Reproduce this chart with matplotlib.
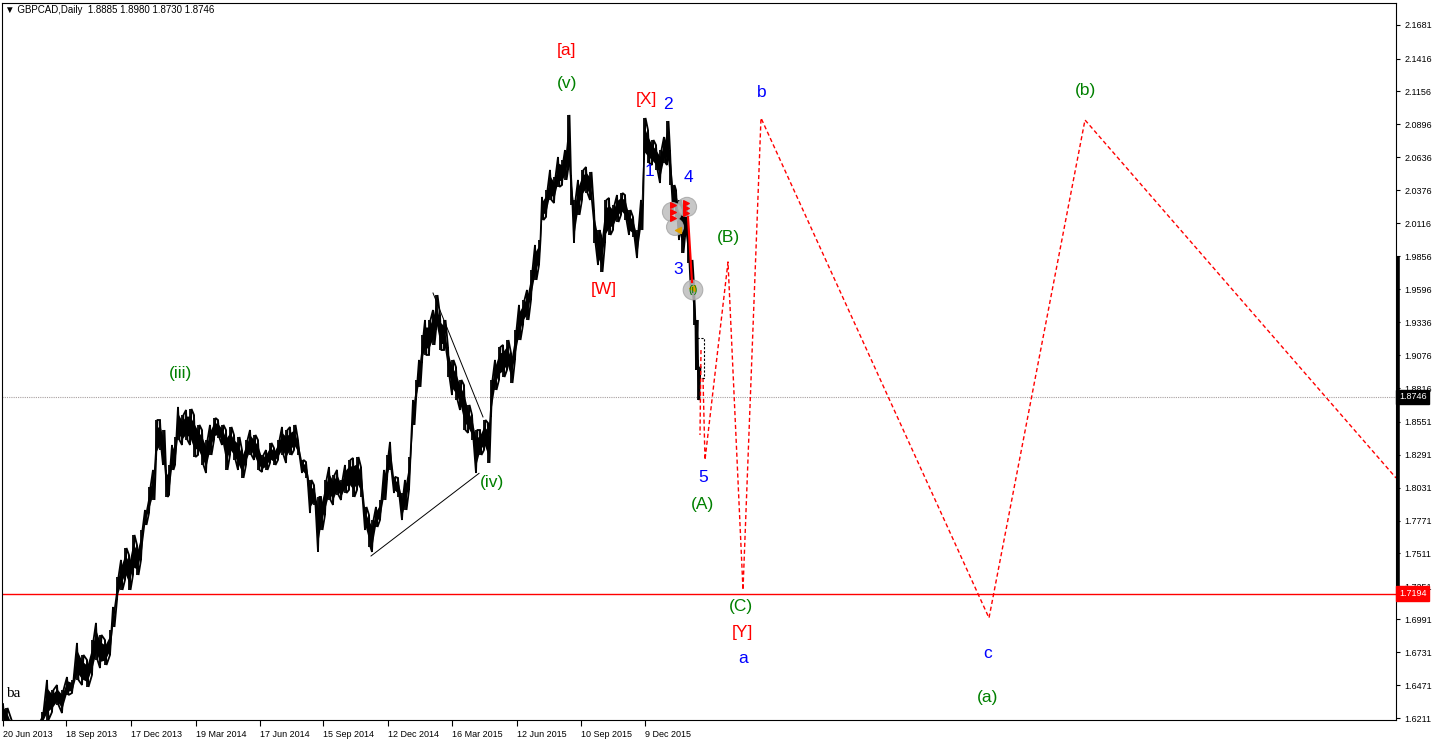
import matplotlib
matplotlib.use("Agg")
import matplotlib.pyplot as plt
import matplotlib.transforms as mtransforms

# ---------------- data ----------------
bar_x = [3, 6, 15, 25, 35, 42, 47, 52, 57, 62, 67, 72, 77, 82, 87, 92, 96, 100, 105, 110,
         113, 117, 121, 125, 129, 133, 137, 141, 145, 149, 153, 156, 160, 163, 166, 169, 172, 175, 178, 182,
         186, 190, 194, 198, 202, 206, 210, 214, 218, 222, 226, 230, 234, 238, 242, 246, 250, 254, 258, 262,
         266, 270, 274, 278, 282, 286, 290, 294, 298, 302, 306, 310, 314, 318, 321, 325, 329, 333, 337, 341,
         345, 349, 353, 357, 361, 365, 369, 372, 376, 380, 384, 387, 390, 394, 398, 402, 405, 409, 413, 416,
         419, 422, 425, 429, 433, 436, 440, 444, 448, 452, 456, 460, 464, 468, 472, 476, 480, 484, 488, 491,
         495, 499, 503, 507, 511, 515, 519, 523, 527, 531, 535, 539, 542, 546, 550, 554, 558, 562, 565, 568,
         571, 574, 578, 582, 586, 590, 594, 598, 601, 605, 609, 613, 617, 621, 625, 629, 633, 637, 641, 644,
         648, 652, 656, 660, 664, 667, 670, 673, 676, 679, 682, 685, 688, 691, 694, 696, 698, 699]
bar_high = [1.6323, 1.6292, 1.6118, 1.6079, 1.6158, 1.6260, 1.6513, 1.6434, 1.6473, 1.6434, 1.6536, 1.6513, 1.6805, 1.6710, 1.6671, 1.6828, 1.6963, 1.6868, 1.6828, 1.6907,
            1.7089, 1.7325, 1.7460, 1.7554, 1.7499, 1.7657, 1.7578, 1.7696, 1.7854, 1.8036, 1.8170, 1.8564, 1.8564, 1.8485, 1.8170, 1.8209, 1.8367, 1.8430, 1.8667, 1.8604,
            1.8643, 1.8651, 1.8604, 1.8525, 1.8485, 1.8406, 1.8525, 1.8580, 1.8564, 1.8525, 1.8485, 1.8509, 1.8446, 1.8430, 1.8327, 1.8406, 1.8485, 1.8446, 1.8406, 1.8288,
            1.8327, 1.8383, 1.8343, 1.8406, 1.8509, 1.8485, 1.8509, 1.8525, 1.8406, 1.8249, 1.8233, 1.8091, 1.8051, 1.7957, 1.7957, 1.8091, 1.8193, 1.8130, 1.8170, 1.8091,
            1.8209, 1.8249, 1.8264, 1.8272, 1.8193, 1.7878, 1.7815, 1.7775, 1.7878, 1.7933, 1.8170, 1.8288, 1.8391, 1.8114, 1.8107, 1.7988, 1.8091, 1.8272, 1.8722, 1.8880,
            1.9038, 1.9235, 1.9353, 1.9353, 1.9432, 1.9550, 1.9393, 1.9353, 1.9140, 1.9038, 1.8982, 1.8880, 1.8840, 1.8683, 1.8604, 1.8485, 1.8485, 1.8564, 1.8541, 1.8880,
            1.9038, 1.9140, 1.9156, 1.9195, 1.9093, 1.9274, 1.9472, 1.9511, 1.9590, 1.9748, 1.9945, 1.9984, 2.0324, 2.0379, 2.0537, 2.0481, 2.0639, 2.0616, 2.0694, 2.0971,
            2.0497, 2.0300, 2.0458, 2.0537, 2.0560, 2.0521, 2.0221, 2.0063, 2.0024, 2.0300, 2.0316, 2.0261, 2.0339, 2.0355, 2.0339, 2.0221, 2.0166, 2.0063, 2.0300, 2.0947,
            2.0852, 2.0773, 2.0734, 2.0694, 2.0797, 2.0923, 2.0694, 2.0418, 2.0379, 2.0300, 2.0261, 2.0276, 2.0103, 1.9827, 1.9629, 1.9353, 1.9038, 1.8980]
bar_low = [1.6197, 1.6181, 1.6000, 1.5960, 1.6039, 1.6158, 1.6197, 1.6260, 1.6316, 1.6252, 1.6394, 1.6410, 1.6513, 1.6473, 1.6458, 1.6552, 1.6671, 1.6607, 1.6631, 1.6710,
           1.6931, 1.7144, 1.7223, 1.7302, 1.7223, 1.7341, 1.7341, 1.7460, 1.7736, 1.7830, 1.7933, 1.8249, 1.8327, 1.8209, 1.7957, 1.7972, 1.8170, 1.8209, 1.8406, 1.8367,
           1.8406, 1.8367, 1.8272, 1.8288, 1.8209, 1.8146, 1.8288, 1.8406, 1.8422, 1.8367, 1.8170, 1.8288, 1.8249, 1.8170, 1.8107, 1.8209, 1.8288, 1.8249, 1.8170, 1.8154,
           1.8170, 1.8225, 1.8209, 1.8249, 1.8288, 1.8225, 1.8288, 1.8327, 1.8288, 1.8146, 1.8107, 1.7830, 1.7894, 1.7523, 1.7696, 1.7815, 1.7933, 1.7894, 1.7972, 1.7933,
           1.7988, 1.8012, 1.7957, 1.8012, 1.7957, 1.7696, 1.7562, 1.7523, 1.7720, 1.7775, 1.7933, 1.8091, 1.8170, 1.7988, 1.7957, 1.7775, 1.7854, 1.8012, 1.8525, 1.8722,
           1.8825, 1.9014, 1.9077, 1.9077, 1.9156, 1.9274, 1.9116, 1.9116, 1.8903, 1.8761, 1.8722, 1.8643, 1.8485, 1.8462, 1.8406, 1.8146, 1.8288, 1.8327, 1.8225, 1.8588,
           1.8801, 1.8880, 1.8903, 1.8959, 1.8856, 1.9038, 1.9195, 1.9314, 1.9353, 1.9511, 1.9669, 1.9787, 2.0142, 2.0166, 2.0300, 2.0276, 2.0403, 2.0418, 2.0458, 2.0537,
           2.0261, 1.9961, 2.0182, 2.0300, 2.0355, 2.0300, 1.9961, 1.9787, 1.9732, 1.9961, 2.0024, 2.0063, 2.0126, 2.0182, 2.0142, 2.0024, 2.0008, 1.9842, 2.0063, 2.0616,
           2.0592, 2.0576, 2.0537, 2.0434, 2.0592, 2.0576, 2.0418, 2.0221, 2.0166, 1.9984, 1.9882, 2.0008, 1.9803, 1.9550, 1.9314, 1.8959, 1.8722, 1.8730]

# projected wave path (red dashed)
proj_short_x = [701, 700]
proj_short_y = [1.9116, 1.8446]
proj_x = [703, 705, 728, 743, 761, 989, 1085, 1396]
proj_y = [1.8896, 1.8249, 1.9811, 1.7223, 2.0947, 1.7002, 2.0931, 1.8107]

# triangle trend lines
tl_upper_x = [433, 483]
tl_upper_y = [1.9566, 1.8588]
tl_lower_x = [371, 479]
tl_lower_y = [1.7491, 1.8143]

# wave labels: (text, x, price, color)
wave_labels = [
    ("[a]", 566, 2.1483, "red"), ("(v)", 567, 2.1215, "green"), ("[X]", 646, 2.1089, "red"),
    ("2", 668, 2.1057, "blue"), ("1", 650, 2.0521, "blue"), ("4", 688, 2.0481, "blue"),
    ("3", 678, 1.9748, "blue"), ("[W]", 604, 1.9590, "red"), ("(iii)", 180, 1.8927, "green"),
    ("(iv)", 492, 1.8067, "green"), ("5", 703, 1.8107, "blue"), ("(A)", 703, 1.7901, "green"),
    ("(B)", 728, 2.0000, "green"), ("(C)", 741, 1.7089, "green"), ("[Y]", 742, 1.6884, "red"),
    ("a", 743, 1.6686, "blue"), ("b", 762, 2.1144, "blue"), ("c", 988, 1.6718, "blue"),
    ("(a)", 988, 1.6371, "green"), ("(b)", 1085, 2.1160, "green"),
]

price_ticks = [2.1681, 2.1416, 2.1156, 2.0896, 2.0636, 2.0376, 2.0116, 1.9856, 1.9596, 1.9336,
               1.9076, 1.8816, 1.8551, 1.8291, 1.8031, 1.7771, 1.7511, 1.7251, 1.6991, 1.6731,
               1.6471, 1.6211]
date_tick_x = [3, 66, 131, 196, 260, 323, 388, 452, 517, 581, 645]
date_tick_labels = ["20 Jun 2013", "18 Sep 2013", "17 Dec 2013", "19 Mar 2014", "17 Jun 2014",
                    "15 Sep 2014", "12 Dec 2014", "16 Mar 2015", "12 Jun 2015", "10 Sep 2015",
                    "9 Dec 2015"]
last_price = 1.8746
level_price = 1.7194

# ---------------- figure ----------------
W, H = 1436, 742
fig = plt.figure(figsize=(W / 100, H / 100), dpi=100)
fig.patch.set_facecolor("white")
left_px, right_px, top_px, bottom_px = 2, 1396, 3, 720
ax = fig.add_axes([left_px / W, 1 - bottom_px / H, (right_px - left_px) / W, (bottom_px - top_px) / H])
ax.set_xlim(left_px, right_px)
ax.set_ylim(1.6197, 2.1854)

FAM = ["Liberation Sans", "DejaVu Sans"]
small = dict(family=FAM, size=6.5)

# price bars: vertical high-low strokes joined by a jagged zig-zag
ax.vlines(bar_x, bar_low, bar_high, color="black", lw=1.3, zorder=3)
zz_x, zz_y = [], []
for i, (x, h, l) in enumerate(zip(bar_x, bar_high, bar_low)):
    if i % 2 == 0:
        zz_x += [x, x + 1.5]
        zz_y += [h, l]
    else:
        zz_x += [x, x + 1.5]
        zz_y += [l, h]
ax.plot(zz_x, zz_y, color="black", lw=1.3, zorder=3, solid_joinstyle="miter")
ax.fill_between(bar_x, [l + (h - l) * 0.2 for h, l in zip(bar_high, bar_low)],
                [h - (h - l) * 0.2 for h, l in zip(bar_high, bar_low)],
                color="black", lw=0, zorder=3)

# horizontal levels
ax.axhline(last_price, color="#A8A0A0", lw=0.8, ls=(0, (1, 1)), zorder=1)
ax.axhline(level_price, color="red", lw=1.0, zorder=1)

# trend lines
ax.plot(tl_upper_x, tl_upper_y, color="black", lw=0.7, zorder=4)
ax.plot(tl_lower_x, tl_lower_y, color="black", lw=0.7, zorder=4)

# projections
ax.plot(proj_short_x, proj_short_y, color="red", lw=1.0, ls=(0, (3, 2)), zorder=4)
ax.plot(proj_x, proj_y, color="red", lw=1.0, ls=(0, (3, 2)), zorder=4)

# small dashed black box
ax.plot([697, 704, 704, 700], [1.9211, 1.9211, 1.8896, 1.8896], color="black", lw=0.8,
        ls=(0, (2, 1.5)), zorder=4)

# trade markers
ax.scatter([672, 687, 675, 693], [2.0205, 2.0245, 2.0087, 1.9590], s=[190, 190, 150, 200],
           color="#BEBEBE", alpha=0.85, edgecolors="#A8A8A8", lw=0.8, zorder=5)
ax.plot([688, 692], [2.0166, 1.9653], color="red", lw=1.6, zorder=6)
ax.scatter([673, 673, 673, 686, 686, 686], [2.0261, 2.0205, 2.0158, 2.0276, 2.0237, 2.0197],
           marker=">", s=16, color="red", zorder=7)
ax.scatter([678, 692], [2.0063, 1.9606], marker="<", s=18, color="#E0A000", zorder=7)
ax.text(693, 1.9590, "(i)", color="green", fontsize=7.5, ha="center", va="center",
        family=FAM, zorder=8)

# wave labels
for t, x, y, c in wave_labels:
    ax.text(x, y, t, color=c, fontsize=12.5, ha="center", va="center", family=FAM, zorder=8)
ax.text(6, 1.6410, "ba", color="black", fontsize=11, ha="left", va="center",
        family=["Liberation Serif", "DejaVu Serif"], zorder=8)

# title
ax.text(5, 2.1878 - 0.000789 * 10, "\u25bc GBPCAD,Daily  1.8885 1.8980 1.8730 1.8746",
        ha="left", va="center", color="black", family=FAM, size=7, zorder=8)

# axes styling
for s in ax.spines.values():
    s.set_color("black")
    s.set_linewidth(0.8)
ax.yaxis.tick_right()
ax.set_yticks(price_ticks)
ax.set_yticklabels([f"{v:.4f}" for v in price_ticks])
ax.tick_params(axis="y", direction="out", length=3, width=0.8, pad=3, labelsize=6.5)
ax.set_xticks(date_tick_x)
ax.set_xticklabels(date_tick_labels)
ax.tick_params(axis="x", direction="out", length=4, width=0.8, pad=3, labelsize=6.5)
for lab in ax.get_xticklabels() + ax.get_yticklabels():
    lab.set_family(FAM)
for lab in ax.get_xticklabels():
    lab.set_horizontalalignment("left")

# price boxes on the right scale
trans = mtransforms.blended_transform_factory(ax.transAxes, ax.transData)
xr = 1 + 3 / (right_px - left_px)
for price, col in [(last_price, "black"), (level_price, "red")]:
    ax.text(xr, price, f"{price:.4f}", transform=trans, color="white", fontdict=small,
            ha="left", va="center", clip_on=False, zorder=10,
            bbox=dict(boxstyle="square,pad=0.3", fc=col, ec=col))

# thick bar on the price scale
ax.plot([1.0016, 1.0016], [1.985, 1.714], transform=trans, color="black", lw=2.6,
        clip_on=False, zorder=9, solid_capstyle="butt")

fig.savefig("out.png", dpi=100)
